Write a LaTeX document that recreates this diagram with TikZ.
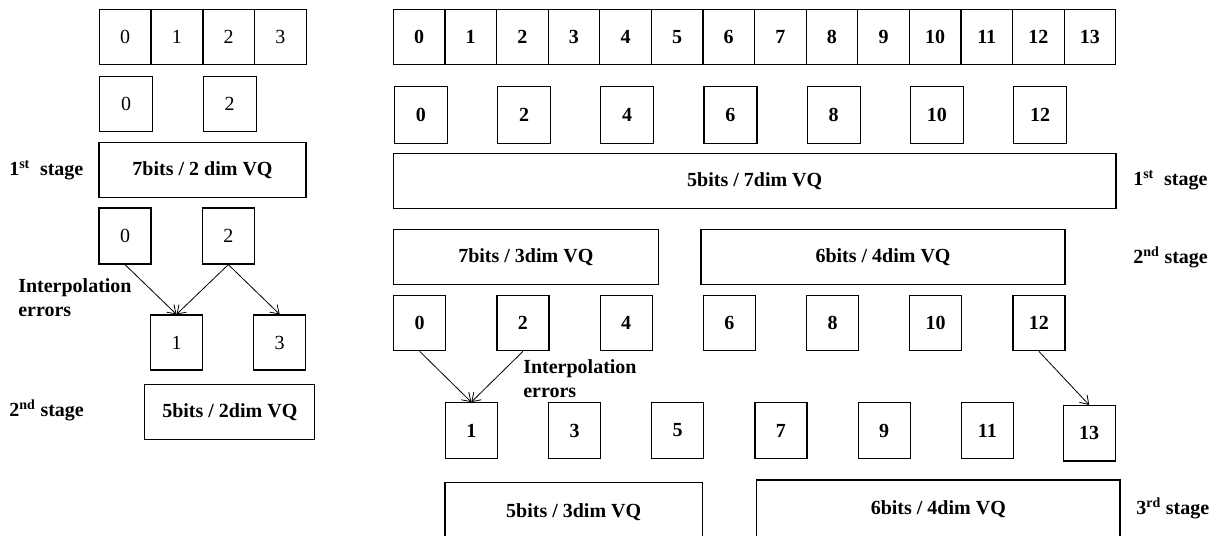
\documentclass[tikz,border=0pt]{standalone}
\usepackage{fontspec}
\setmainfont{Liberation Serif}
\usetikzlibrary{arrows.meta}

\tikzset{
  cell/.style={draw, line width=0.9pt, minimum width=39pt, minimum height=41.25pt, inner sep=0pt, font=\fontsize{15}{18}\selectfont},
  bcell/.style={cell, font=\fontsize{15}{18}\selectfont\bfseries},
  vq/.style={draw, line width=0.9pt, minimum height=41.25pt, inner sep=0pt, font=\fontsize{15}{18}\selectfont\bfseries},
  lbl/.style={anchor=west, inner sep=0pt, align=left, font=\fontsize{15}{18}\selectfont\bfseries},
  err/.style={->, line width=0.6pt}
}

\begin{document}
\begin{tikzpicture}[x=0.75pt, y=-0.75pt, >={Straight Barb[length=6pt,width=8pt]}]
    \useasboundingbox (0,0) rectangle (1226,535);
    \clip (0,0) rectangle (1226,535);

    % left part: 4 samples, two stages
    \foreach \i in {0,...,3}
        \node[cell] (lt\i) at ({125.2+51.7*\i},36.8) {\i};
    \node[cell, minimum width=39.75pt] (ls0) at (126.2,104) {0};
    \node[cell, minimum width=39.75pt] (ls2) at (229.7,104) {2};
    \node[vq, minimum width=155.25pt] (lvq1) at (202.5,170.2) {7bits / 2 dim VQ};
    \node[lbl] (lst1) at (9,170) {1\textsuperscript{st}\ \ stage};

    \node[cell, minimum height=42pt] (le0) at (125,236) {0};
    \node[cell, minimum height=42pt] (le2) at (228.3,236) {2};
    \node[cell] (lo1) at (176.5,342.5) {1};
    \node[cell] (lo3) at (279.7,342.5) {3};
    \draw[err] (le0.south) -- (lo1.north);
    \draw[err] (le2.south) -- (lo1.north);
    \draw[err] (le2.south) -- (lo3.north);
    \node[lbl] (lerr) at (18,298) {Interpolation\\errors};

    \node[vq, minimum width=127.5pt] (lvq2) at (229.8,411.8) {5bits / 2dim VQ};
    \node[lbl] (lst2) at (9,410) {2\textsuperscript{nd} stage};

    % right part: 14 samples, three stages
    \foreach \i in {0,...,13}
        \node[bcell, minimum width=38.7pt, minimum height=41.75pt] (rt\i) at ({419.1+51.6*\i},37) {\i};
    \foreach \i [evaluate=\i as \n using int(2*\i)] in {0,...,6}
        \node[bcell, minimum width=39.75pt, minimum height=42.75pt] (rs\n) at ({420.8+103.2*\i},114.8) {\n};
    \node[vq, minimum width=542pt] (rvq1) at (754.7,180.8) {5bits / 7dim VQ};
    \node[lbl] (rst1) at (1133,180) {1\textsuperscript{st}\ \ stage};

    \node[vq, minimum width=198.75pt] (rvq2a) at (525.8,257.2) {7bits / 3dim VQ};
    \node[vq, minimum width=273pt] (rvq2b) at (883,257.2) {6bits / 4dim VQ};
    \node[lbl] (rst2) at (1133,257) {2\textsuperscript{nd} stage};

    \foreach \i [evaluate=\i as \n using int(2*\i)] in {0,...,6}
        \node[bcell] (re\n) at ({419.7+103.2*\i},323.3) {\n};
    \foreach \i [evaluate=\i as \n using int(2*\i+1)] in {0,...,5}
        \node[bcell, minimum height=41.7pt] (ro\n) at ({471.3+103.2*\i},430.5) {\n};
    \node[bcell, minimum height=41.5pt] (ro13) at (1089.2,433.3) {13};
    \draw[err] (re0.south) -- (ro1.north);
    \draw[err] (re2.south) -- (ro1.north);
    \draw[err] (re12.south) -- (ro13.north);
    \node[lbl] (rerr) at (523,378.5) {Interpolation\\errors};

    \node[vq, minimum width=193pt, minimum height=43.5pt] (rvq3a) at (573.7,511.7) {5bits / 3dim VQ};
    \node[vq, minimum width=272.5pt, minimum height=43.5pt] (rvq3b) at (938.3,509) {6bits / 4dim VQ};
    \node[lbl] (rst3) at (1136,508) {3\textsuperscript{rd} stage};
\end{tikzpicture}
\end{document}
